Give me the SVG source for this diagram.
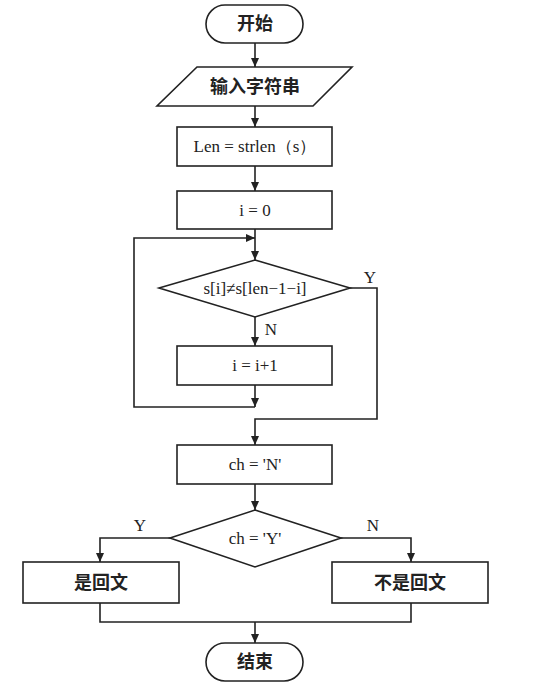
<svg xmlns="http://www.w3.org/2000/svg" width="535" height="684" viewBox="0 0 535 684">
<style>
.s{fill:#fff;stroke:#222;stroke-width:1.6}
.c{fill:none;stroke:#222;stroke-width:1.6}
.t{font-family:"Liberation Serif","Times New Roman",serif;font-size:17px;fill:#222;text-anchor:middle}
.z{font-family:"Noto Sans CJK SC","Noto Sans",sans-serif;font-size:18px;font-weight:bold;fill:#222;text-anchor:middle}
</style>
<defs>
<marker id="a" markerWidth="10" markerHeight="10" refX="9" refY="5" orient="auto" markerUnits="userSpaceOnUse">
<path d="M0,1 L9,5 L0,9 Z" fill="#222"/>
</marker>
</defs>
<rect width="535" height="684" fill="#fff"/>
<g id="connectors">
<line class="c" x1="255" y1="43" x2="255" y2="67" marker-end="url(#a)"/>
<line class="c" x1="255" y1="106" x2="255" y2="127" marker-end="url(#a)"/>
<line class="c" x1="255" y1="166" x2="255" y2="191" marker-end="url(#a)"/>
<line class="c" x1="255" y1="229" x2="255" y2="260" marker-end="url(#a)"/>
<polyline class="c" points="255,407 134,407 134,238 255,238" marker-end="url(#a)"/>
<line class="c" x1="255" y1="317" x2="255" y2="346" marker-end="url(#a)"/>
<line class="c" x1="255" y1="385" x2="255" y2="407" marker-end="url(#a)"/>
<polyline class="c" points="350,288 377,288 377,419 255,419 255,445" marker-end="url(#a)"/>
<line class="c" x1="255" y1="484" x2="255" y2="510" marker-end="url(#a)"/>
<polyline class="c" points="170,538 100,538 100,562" marker-end="url(#a)"/>
<polyline class="c" points="341,538 411,538 411,562" marker-end="url(#a)"/>
<polyline class="c" points="100,603 100,622 411,622 411,603"/>
<line class="c" x1="255" y1="622" x2="255" y2="643" marker-end="url(#a)"/>
<text class="t" x="370" y="283">Y</text>
<text class="t" x="271" y="335">N</text>
<text class="t" x="140" y="531">Y</text>
<text class="t" x="373" y="531">N</text>
</g>
<g id="start">
<rect class="s" x="206" y="5" width="97" height="38" rx="19"/>
<text class="z" x="255" y="30">开始</text>
</g>
<g id="input">
<polygon class="s" points="197,67 352,67 313,106 157,106"/>
<text class="z" x="255" y="93">输入字符串</text>
</g>
<g id="len">
<rect class="s" x="177" y="127" width="155" height="39"/>
<text class="t" x="255" y="152">Len = strlen（s）</text>
</g>
<g id="init">
<rect class="s" x="177" y="191" width="155" height="38"/>
<text class="t" x="255" y="216">i = 0</text>
</g>
<g id="cond1">
<polygon class="s" points="255,260 350,288 255,317 159,288"/>
<text class="t" x="255" y="294">s[i]≠s[len−1−i]</text>
</g>
<g id="inc">
<rect class="s" x="177" y="346" width="155" height="39"/>
<text class="t" x="255" y="371">i = i+1</text>
</g>
<g id="setch">
<rect class="s" x="177" y="445" width="155" height="39"/>
<text class="t" x="255" y="470">ch = 'N'</text>
</g>
<g id="cond2">
<polygon class="s" points="255,510 341,538 255,567 170,538"/>
<text class="t" x="255" y="544">ch = 'Y'</text>
</g>
<g id="yes">
<rect class="s" x="23" y="562" width="156" height="41"/>
<text class="z" x="101" y="589">是回文</text>
</g>
<g id="no">
<rect class="s" x="332" y="562" width="156" height="41"/>
<text class="z" x="410" y="589">不是回文</text>
</g>
<g id="end">
<rect class="s" x="206" y="643" width="97" height="38" rx="19"/>
<text class="z" x="255" y="668">结束</text>
</g>
</svg>
